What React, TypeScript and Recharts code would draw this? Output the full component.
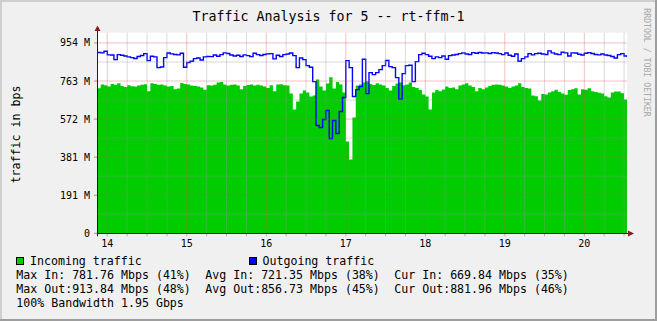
import { Area, CartesianGrid, ComposedChart, Line, ReferenceLine, XAxis, YAxis } from "recharts";

// hourly samples, first one 3 hours before day 14 starts
const startHour = -3;

// incoming traffic, Mbps
const incoming = [
  727, 745, 742, 736, 748, 744, 752, 738, 733, 742, 737, 735, 740, 744, 747, 712, 752, 748, 744, 746,
  740, 735, 738, 722, 726, 753, 748, 745, 741, 738, 736, 730, 719, 742, 740, 744, 755, 758, 745, 741,
  744,
  745, 740, 722, 738, 743, 745, 741, 744, 740, 735, 728, 742, 712, 745, 747, 742, 740, 700, 620, 660,
  700, 715, 705, 685, 690, 770, 735, 715, 750, 782, 725, 758, 745, 705, 460, 370, 580, 740, 745, 755,
  762, 748, 743, 752, 745, 740, 728, 715, 738, 750, 755, 742, 745, 755, 733, 728, 718, 695, 685, 620,
  705, 718, 712, 720, 735, 728, 730, 722, 740, 745, 752, 740, 733, 712, 728, 722, 730, 738, 744, 745,
  744, 741, 735, 728, 736, 740, 752, 733, 728, 725, 690, 686, 665, 698, 696, 705, 712, 719, 708, 700,
  694, 718, 722, 727, 696, 722, 719, 727, 712, 708, 704, 700, 686, 680, 705, 710, 710, 702, 670, 670,
];

// outgoing traffic, Mbps
const outgoing = [
  906, 904, 912, 894, 893, 870, 895, 892, 888, 884, 880, 876, 886, 891, 900, 865, 887, 884, 830, 833,
  880, 903, 899, 896, 894, 902, 832, 856, 862, 875, 878, 868, 884, 886, 885, 893, 887, 895, 904, 901,
  893,
  888, 892, 886, 894, 890, 885, 902, 895, 891, 896, 899, 900, 874, 892, 886, 895, 898, 903, 890, 830,
  878, 870, 840, 832, 760, 540, 530, 570, 615, 475, 565, 500, 610, 680, 865, 830, 685, 720, 735, 872,
  700, 805, 795, 805, 820, 840, 866, 835, 830, 780, 672, 800, 840, 842, 760, 860, 895, 902, 895, 887,
  875, 884, 880, 888, 872, 890, 893, 896, 900, 904, 898, 896, 905, 902, 906, 903, 904, 901, 905, 903,
  900, 895, 903, 892, 887, 898, 862, 875, 884, 900, 894, 900, 902, 898, 896, 914, 904, 898, 895, 907,
  904, 888, 904, 903, 897, 893, 902, 905, 901, 896, 894, 898, 893, 891, 886, 878, 895, 900, 888, 882,
];

const dayTicks = [14, 15, 16, 17, 18, 19, 20];
const yTicks = [0, 190.73, 381.47, 572.2, 762.94, 953.67];
const yTickLabels = ["0", "191 M", "381 M", "572 M", "763 M", "954 M"];
const yMinor = [95.37, 286.1, 476.84, 667.57, 858.31];

const legendRows = [
  ["Max In: 781.76 Mbps (41%)", "Avg In: 721.35 Mbps (38%)", "Cur In: 669.84 Mbps (35%)"],
  ["Max Out:913.84 Mbps (48%)", "Avg Out:856.73 Mbps (45%)", "Cur Out:881.96 Mbps (46%)"],
];

const MONO = "'DejaVu Sans Mono', monospace";
const W = 657;
const H = 321;
const PLOT = { left: 97, right: 627, top: 32.7, bottom: 233.3 };
const X_DOMAIN: [number, number] = [13.8704, 20.537];

const GRID = "rgba(150,150,150,0.35)";
const MGRID = "rgba(222,79,79,0.35)";

export default function App() {
  const rows = incoming.map((v, i) => ({
    t: 14 + (startHour + i) / 24,
    in: v,
    out: outgoing[i],
  }));

  const quarterTicks: number[] = [];
  dayTicks.forEach((d) => [0.25, 0.5, 0.75].forEach((q) => quarterTicks.push(d + q)));
  const xMinor = quarterTicks.filter((t) => t < X_DOMAIN[1]);
  const allXTicks = [...dayTicks, ...xMinor].sort((a, b) => a - b);

  return (
    <div style={{ position: "absolute", left: 0, top: 0, width: W, height: H, background: "#f0f0f0" }}>
      <ComposedChart
        width={W}
        height={H}
        data={rows}
        margin={{ top: PLOT.top, right: W - PLOT.right, bottom: H - PLOT.bottom - 30, left: PLOT.left - 60 }}
      >
        <CartesianGrid horizontal={false} vertical={false} fill="#ffffff" />
        <XAxis
          dataKey="t"
          type="number"
          domain={X_DOMAIN}
          allowDataOverflow
          ticks={allXTicks}
          interval={0}
          tickFormatter={(v: number) => (Number.isInteger(v) ? String(v) : "")}
          height={30}
          tickSize={3}
          tickMargin={4}
          axisLine={false}
          tickLine={{ stroke: "#b0b0b0" }}
          tick={{ fill: "#000", fontSize: 10, fontFamily: MONO }}
        />
        <YAxis
          type="number"
          domain={[0, 1005]}
          allowDataOverflow
          ticks={yTicks}
          interval={0}
          tickFormatter={(v: number) => yTickLabels[yTicks.indexOf(v)] ?? ""}
          width={60}
          tickSize={3}
          tickMargin={4}
          axisLine={false}
          tickLine={{ stroke: "#d08080" }}
          tick={{ fill: "#000", fontSize: 10, fontFamily: MONO }}
        />
        <Area
          type="stepAfter"
          dataKey="in"
          fill="#00cc00"
          fillOpacity={1}
          stroke="none"
          isAnimationActive={false}
        />
        <Line
          type="stepAfter"
          dataKey="out"
          stroke="#0000ff"
          strokeWidth={1.4}
          dot={false}
          isAnimationActive={false}
        />
        {yMinor.map((y) => (
          <ReferenceLine key={"ym" + y} y={y} stroke={GRID} />
        ))}
        {xMinor.map((x) => (
          <ReferenceLine key={"xm" + x} x={x} stroke={GRID} />
        ))}
        {yTicks.slice(1).map((y) => (
          <ReferenceLine key={"yM" + y} y={y} stroke={MGRID} />
        ))}
        {dayTicks.map((x) => (
          <ReferenceLine key={"xM" + x} x={x} stroke={MGRID} />
        ))}
      </ComposedChart>

      <svg
        width={W}
        height={H}
        style={{ position: "absolute", left: 0, top: 0, pointerEvents: "none" }}
        fontFamily={MONO}
      >
        {/* 3d frame */}
        <rect x={0} y={0} width={W} height={2} fill="#cfcfcf" />
        <rect x={0} y={0} width={2} height={H} fill="#cfcfcf" />
        <rect x={0} y={H - 2} width={W} height={2} fill="#9e9e9e" />
        <rect x={W - 2} y={0} width={2} height={H} fill="#9e9e9e" />

        <text x={328.5} y={21} textAnchor="middle" fontSize={13.3} fill="#000">
          Traffic Analysis for 5 -- rt-ffm-1
        </text>
        <text
          transform="translate(646.5,62.5) rotate(90)"
          textAnchor="middle"
          dominantBaseline="central"
          fontSize={8.2}
          fill="#a8a8a8"
        >
          RRDTOOL / TOBI OETIKER
        </text>
        <text
          transform="translate(16,134.5) rotate(-90)"
          textAnchor="middle"
          dominantBaseline="central"
          fontSize={11.6}
          fill="#000"
        >
          traffic in bps
        </text>

        {/* axes with arrows */}
        <line x1={PLOT.left + 0.5} y1={PLOT.bottom + 3} x2={PLOT.left + 0.5} y2={29} stroke="#1f1f1f" />
        <line x1={PLOT.left} y1={PLOT.bottom + 0.2} x2={630} y2={PLOT.bottom + 0.2} stroke="#1f1f1f" />
        <polygon points="97.5,25.5 94.5,31 100.5,31" fill="#801f1f" />
        <polygon points="634,233.5 628,230.5 628,236.5" fill="#801f1f" />

        {/* legend */}
        <rect x={16.5} y={257.5} width={7} height={7} fill="#00cc00" stroke="#000" />
        <text x={30} y={265.3} fontSize={11.6} fill="#000">Incoming traffic</text>
        <rect x={249.5} y={257.5} width={7} height={7} fill="#0000ff" stroke="#000" />
        <text x={262.5} y={265.3} fontSize={11.6} fill="#000">Outgoing traffic</text>
        {legendRows.map((row, r) =>
          row.map((s, c) => (
            <text
              key={r + "-" + c}
              x={16.3 + c * 189}
              y={[278.7, 293.3][r]}
              fontSize={11.6}
              fill="#000"
              style={{ whiteSpace: "pre" }}
            >
              {s}
            </text>
          ))
        )}
        <text x={16.3} y={306.7} fontSize={11.6} fill="#000">100% Bandwidth 1.95 Gbps</text>
      </svg>
    </div>
  );
}
